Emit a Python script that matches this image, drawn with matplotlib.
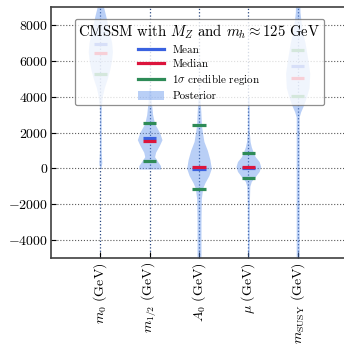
import numpy as np
import matplotlib
matplotlib.use("Agg")
import matplotlib.pyplot as plt
from matplotlib.lines import Line2D
from matplotlib.patches import Patch

plt.rcParams['font.family'] = 'serif'
plt.rcParams['font.serif'] = ['cmr10']
plt.rcParams['mathtext.fontset'] = 'cm'
plt.rcParams['axes.formatter.use_mathtext'] = True

# parameters
labels = [r'$m_0$ (GeV)', r'$m_{1/2}$ (GeV)', r'$A_0$ (GeV)',
          r'$\mu$ (GeV)', r'$m_{\rm SUSY}$ (GeV)']
means = [6950, 1680, -30, 0, 5720]
medians = [6420, 1550, 100, 60, 5050]
sig_lo = [5280, 420, -1130, -520, 4020]
sig_hi = [9600, 2550, 2400, 860, 6610]

# posterior shapes: (value, half width)
m0_y = [9600, 9000, 8500, 8000, 7500, 7000, 6500, 6000, 5500, 5000, 4500, 4000, 3500, 3000, 1000, 300, 0]
m0_w = [0.05, 0.065, 0.11, 0.15, 0.19, 0.23, 0.245, 0.225, 0.19, 0.14, 0.08, 0.04, 0.02, 0.016, 0.016, 0.03, 0.01]
m12_y = [4500, 3800, 3000, 2500, 2000, 1600, 1300, 900, 650, 400, 150, -40]
m12_w = [0.015, 0.03, 0.06, 0.10, 0.20, 0.25, 0.20, 0.12, 0.10, 0.16, 0.22, 0.22]
a0_y = [4000, 3000, 2400, 2000, 1500, 1000, 500, 0, -400, -800, -1100, -1700, -3000, -5000]
a0_w = [0.02, 0.04, 0.05, 0.07, 0.10, 0.17, 0.22, 0.25, 0.20, 0.12, 0.075, 0.047, 0.04, 0.04]
mu_y = [4000, 2000, 1500, 1200, 900, 650, 380, 100, -170, -480, -730, -1000, -2000, -5000]
mu_w = [0.016, 0.02, 0.036, 0.06, 0.10, 0.14, 0.22, 0.25, 0.22, 0.135, 0.06, 0.03, 0.02, 0.016]
ms_y = [9600, 8700, 7700, 7000, 6000, 5300, 4500, 4000, 3500, 3150, 2870, 2000, -5000]
ms_w = [0.04, 0.047, 0.09, 0.15, 0.21, 0.245, 0.23, 0.18, 0.115, 0.06, 0.03, 0.03, 0.03]

shapes = [(m0_y, m0_w), (m12_y, m12_w), (a0_y, a0_w), (mu_y, mu_w), (ms_y, ms_w)]

c_mean = '#3a62e0'
c_med = '#dc143c'
c_sig = '#2e8b57'
c_post = 'cornflowerblue'

fig = plt.figure(figsize=(3.44, 3.46), dpi=100)
ax = fig.add_axes([51 / 344, 88 / 346, 296 / 344, 251 / 346])

pos = np.arange(1, len(labels) + 1)
bw = 0.135
for i, p in enumerate(pos):
    y, w = shapes[i]
    y = np.array(y)
    w = np.array(w)
    ax.fill_betweenx(y, p - w, p + w, color=c_post, alpha=0.45, lw=0, zorder=2)
    ax.plot([p - bw, p + bw], [means[i]] * 2, color=c_mean, lw=2.3, solid_capstyle='butt', zorder=3)
    ax.plot([p - bw, p + bw], [medians[i]] * 2, color=c_med, lw=2.3, solid_capstyle='butt', zorder=3)
    ax.plot([p - bw, p + bw], [sig_lo[i]] * 2, color=c_sig, lw=2.3, solid_capstyle='butt', zorder=3)
    ax.plot([p - bw, p + bw], [sig_hi[i]] * 2, color=c_sig, lw=2.3, solid_capstyle='butt', zorder=3)

ax.set_xlim(0, 6)
ax.set_ylim(-5000, 9000)
ax.set_xticks(pos)
ax.set_xticklabels(labels, rotation=90, fontsize=10)
ax.set_yticks([-4000, -2000, 0, 2000, 4000, 6000, 8000])
ax.tick_params(axis='y', labelsize=10, direction='in', pad=2)
ax.tick_params(axis='x', direction='in', pad=3, length=4)
ax.grid(axis='y', ls=':', color='0.35', lw=0.8, zorder=1)
ax.grid(axis='x', ls=':', color='#27457f', lw=0.9, zorder=1)
ax.set_axisbelow(True)
for s in ['left', 'bottom', 'top']:
    ax.spines[s].set_color('0.25')
    ax.spines[s].set_linewidth(1.2)
ax.spines['right'].set_visible(False)

handles = [Line2D([], [], color=c_mean, lw=2.3),
           Line2D([], [], color=c_med, lw=2.3),
           Line2D([], [], color=c_sig, lw=2.3),
           Patch(facecolor=c_post, alpha=0.45, lw=0)]
names = ['Mean', 'Median', r'1$\sigma$ credible region', 'Posterior']
leg = ax.legend(handles, names, title=r'CMSSM with $M_Z$ and $m_h\approx125$ GeV',
                loc='upper left', bbox_to_anchor=(0.081, 0.952), borderaxespad=0,
                fontsize=8, title_fontsize=10.6, handlelength=2.3, handleheight=0.9,
                handletextpad=0.8, labelspacing=0.32, borderpad=0.3,
                framealpha=0.8, edgecolor='0.45')
leg.get_frame().set_linewidth(0.9)

fig.savefig('out.png', dpi=100)
